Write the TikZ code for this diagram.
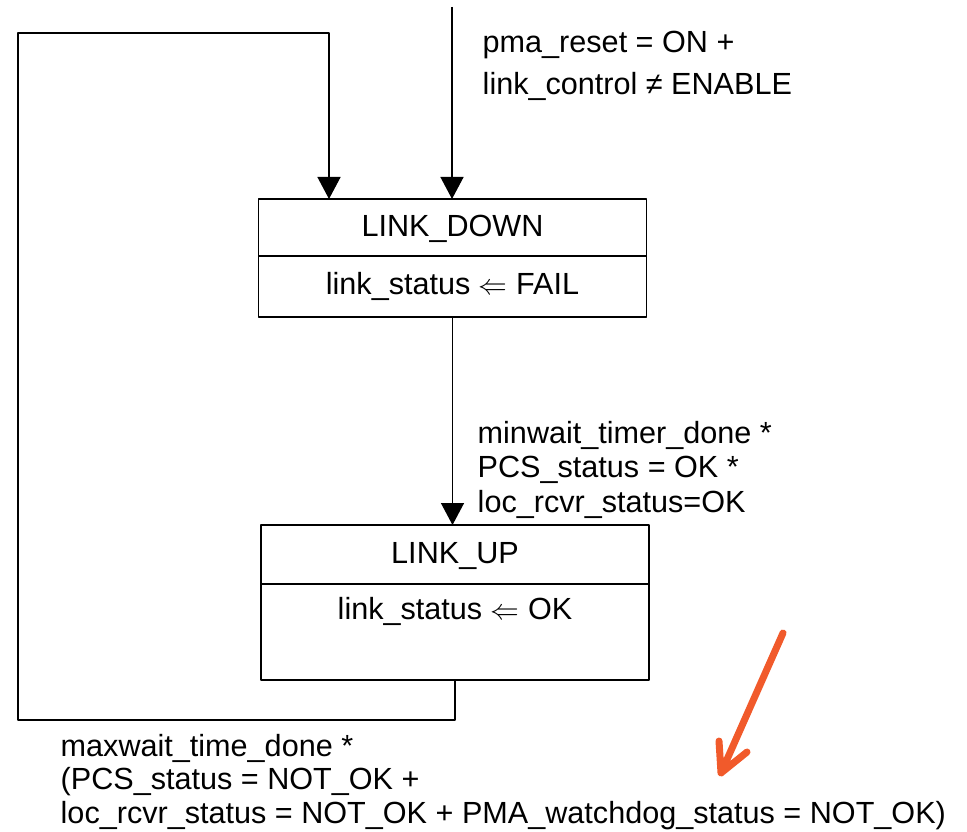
\documentclass[tikz,border=0pt]{standalone}
\usepackage{fontspec}
\setmainfont{Liberation Sans}
\usetikzlibrary{positioning,arrows.meta}
\definecolor{markorange}{HTML}{F15A2B}
\tikzset{
  statebox/.style={draw,rectangle,minimum width=194pt,inner xsep=0pt,inner ysep=0pt,outer sep=0pt,align=center},
  condtext/.style={anchor=base west,inner sep=0pt,align=left},
}
\begin{document}
\begin{tikzpicture}[x=0.5pt,y=0.5pt,>={Triangle[length=11pt,width=11.5pt]},line width=0.7pt,line join=round,font=\fontsize{15.3}{17}\selectfont]
			\useasboundingbox (0,0) rectangle (967,831);
			\node[statebox,anchor=north,text height=19pt,text depth=9.5pt] (downtitle) at (452.5,632) {LINK\_DOWN};
			\node[statebox,below=0pt of downtitle,text height=19pt,text depth=11.5pt] (downbody) {link\_status $\Leftarrow$ FAIL};
			\node[statebox,anchor=north,text height=19pt,text depth=10.5pt] (uptitle) at (455,306) {LINK\_UP};
			\node[statebox,below=0pt of uptitle,text height=17.5pt,text depth=30.5pt] (upbody) {link\_status $\Leftarrow$ OK};
			\coordinate (in) at (452,824);
			\coordinate (loopa) at (18,111);
			\coordinate (loopb) at (18,798);
			\coordinate (loopc) at (329,798);
			\draw[->] (in) -- (in |- downtitle.north);
			\draw[->] (downbody.south) -- (downbody.south |- uptitle.north);
			\draw[->] (upbody.south) |- (loopa) -- (loopb) -- (loopc) -- (loopc |- downtitle.north);
			\node[condtext,font=\fontsize{15.3}{21}\selectfont] (resetcond) at (482,736) {pma\_reset = ON +\\link\_control ≠ ENABLE};
			\node[condtext,font=\fontsize{15.3}{17.25}\selectfont] (upcond) at (477,319) {minwait\_timer\_done *\\PCS\_status = OK *\\loc\_rcvr\_status=OK};
			\node[condtext,font=\fontsize{15.3}{16.75}\selectfont] (downcond) at (60,8) {maxwait\_time\_done *\\(PCS\_status = NOT\_OK +\\loc\_rcvr\_status = NOT\_OK + PMA\_watchdog\_status = NOT\_OK)};
			\coordinate (marktail) at (783,198);
			\coordinate (marktip) at (721,58);
			\draw[markorange,line width=3.5pt,line cap=round] (marktail) -- (marktip) (719,90) -- (marktip) -- (747,79);
		\end{tikzpicture}
\end{document}
